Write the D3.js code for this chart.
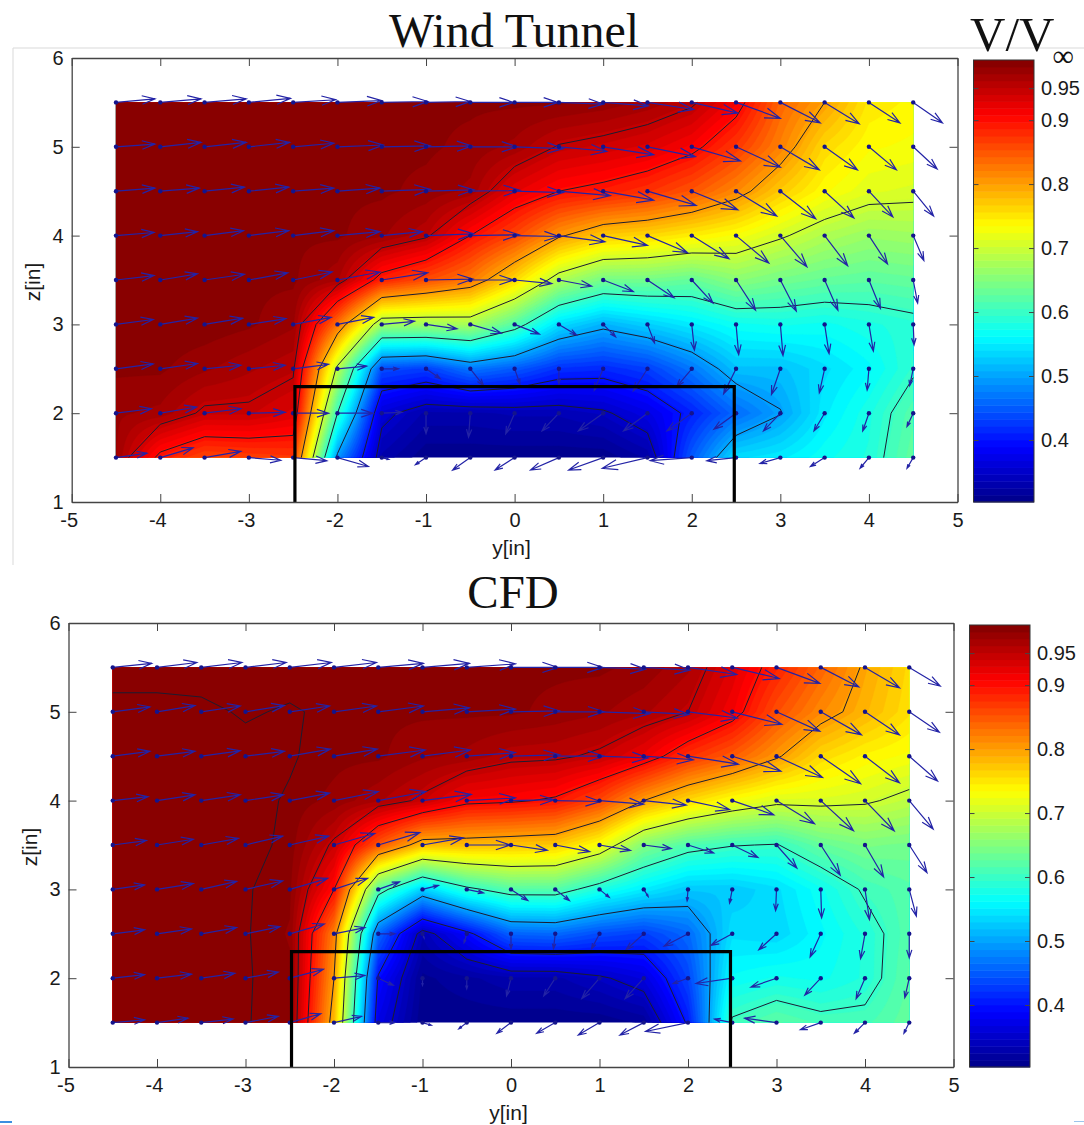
<!DOCTYPE html>
<html>
<head>
<meta charset="utf-8">
<style>
html, body { margin:0; padding:0; background:#fff; }
svg { display:block; }
text { font-family:"Liberation Sans", Arial, sans-serif; fill:#1a1a1a; }
.title { font-family:"Liberation Serif", "Times New Roman", serif; fill:#111; }
</style>
<script src="https://cdnjs.cloudflare.com/ajax/libs/d3/7.8.5/d3.min.js"></script>
</head>
<body>
<script>
// measurement grid, rows run from the top of the plot down
var yVals = [-4.5,-4,-3.5,-3,-2.5,-2,-1.5,-1,-0.5,0,0.5,1,1.5,2,2.5,3,3.5,4,4.5];
var zVals = [5.5,5,4.5,4,3.5,3,2.5,2,1.5];

var xTicks = [-5,-4,-3,-2,-1,0,1,2,3,4,5];
var zTicks = [1,2,3,4,5,6];
var barTicks = [0.4,0.5,0.6,0.7,0.8,0.9,0.95];
var speedRange = [0.303,0.994];

var wtLevels = [0.35,0.4,0.5,0.6,0.7,0.8,0.9,0.95];
var cfdLevels = [0.35,0.4,0.5,0.6,0.7,0.8,0.9,0.95,0.99];

var wtSpeed = [
	[.985,.985,.985,.985,.985,.985,.985,.985,.985,.985,.985,.98,.97,.955,.915,.84,.8,.75,.74],
	[.985,.985,.985,.985,.985,.985,.985,.985,.98,.97,.948,.94,.93,.91,.87,.82,.76,.735,.73],
	[.985,.985,.985,.985,.985,.985,.985,.98,.97,.925,.9,.89,.875,.85,.815,.77,.735,.715,.71],
	[.985,.985,.985,.985,.985,.985,.975,.955,.9,.86,.805,.77,.76,.745,.73,.705,.68,.665,.67],
	[.985,.985,.985,.985,.985,.965,.885,.855,.825,.76,.68,.64,.64,.63,.655,.64,.63,.625,.63],
	[.985,.99,.99,.985,.975,.83,.67,.67,.675,.62,.54,.51,.53,.55,.57,.575,.57,.58,.59],
	[.985,.985,.975,.965,.955,.69,.44,.43,.47,.45,.42,.415,.43,.47,.52,.52,.54,.56,.595],
	[.975,.97,.945,.945,.93,.6,.36,.33,.33,.335,.335,.345,.37,.41,.46,.498,.55,.58,.62],
	[.974,.89,.86,.865,.87,.49,.33,.305,.305,.305,.305,.305,.325,.45,.54,.55,.57,.585,.63]
];
var wtU = [
	[.44,.46,.47,.47,.48,.5,.52,.5,.49,.49,.5,.51,.52,.52,.5,.45,.39,.35,.33],
	[.44,.46,.47,.46,.46,.52,.55,.52,.53,.55,.54,.57,.54,.55,.5,.44,.37,.31,.27],
	[.44,.44,.45,.45,.46,.48,.55,.54,.56,.55,.58,.57,.55,.52,.46,.4,.33,.27,.23],
	[.43,.42,.44,.45,.46,.48,.46,.54,.55,.5,.52,.5,.45,.42,.37,.3,.26,.21,.12],
	[.43,.42,.45,.44,.44,.48,.52,.53,.49,.42,.37,.34,.3,.24,.22,.18,.15,.13,.05],
	[.42,.42,.43,.42,.43,.41,.37,.35,.35,.28,.2,.14,.08,.03,.03,.03,.05,.05,.01],
	[.42,.42,.41,.41,.4,.33,.19,.16,.15,.06,0,-.1,-.16,-.17,-.14,-.1,-.06,-.02,-.04],
	[.4,.41,.41,.41,.4,.4,.23,0,-.02,-.1,-.19,-.28,-.27,-.28,-.25,-.19,-.12,-.07,-.07],
	[.35,.37,.41,.36,.38,.35,.08,-.12,-.2,-.22,-.32,-.39,-.51,-.47,-.33,-.23,-.16,-.1,-.07]
];
var wtV = [
	[.04,.04,.04,.045,.03,.02,.01,.01,0,0,-.02,-.04,-.08,-.12,-.18,-.23,-.24,-.23,-.23],
	[.03,.05,.05,.05,.04,.02,.01,.01,0,-.02,-.05,-.09,-.11,-.16,-.23,-.26,-.26,-.26,-.25],
	[.035,.035,.045,.045,.035,.035,.02,.015,.01,-.015,-.05,-.1,-.16,-.21,-.28,-.31,-.3,-.29,-.28],
	[.035,.045,.055,.055,.055,.045,.045,.02,.01,-.01,-.07,-.11,-.19,-.26,-.31,-.35,-.34,-.32,-.28],
	[.05,.07,.065,.08,.09,.09,.08,.01,0,-.04,-.07,-.13,-.2,-.26,-.34,-.35,-.34,-.32,-.26],
	[.055,.07,.07,.065,.08,.08,.035,-.05,-.1,-.11,-.12,-.14,-.21,-.29,-.34,-.35,-.33,-.3,-.23],
	[.055,.06,.04,.04,.05,.03,0,-.11,-.19,-.17,-.17,-.24,-.25,-.2,-.28,-.29,-.27,-.24,-.19],
	[.05,.07,.05,.01,0,0,.01,-.23,-.27,-.23,-.2,-.2,-.2,-.2,-.18,-.2,-.2,-.2,-.15],
	[.05,.11,.07,-.03,-.035,-.1,-.02,-.08,-.14,-.14,-.14,-.14,-.12,-.035,-.035,-.065,-.1,-.12,-.12]
];

var cfdSpeed = [
	[.986,.986,.986,.986,.986,.986,.985,.985,.985,.985,.985,.985,.98,.965,.93,.885,.84,.795,.76],
	[.993,.993,.992,.989,.991,.988,.985,.985,.985,.985,.98,.975,.965,.95,.915,.855,.815,.785,.755],
	[.993,.993,.993,.993,.991,.986,.985,.975,.97,.957,.955,.945,.92,.875,.845,.805,.76,.74,.73],
	[.993,.993,.993,.993,.989,.98,.965,.945,.91,.905,.895,.86,.8,.76,.73,.71,.71,.705,.69],
	[.993,.993,.993,.993,.988,.945,.85,.78,.78,.775,.77,.73,.65,.615,.602,.598,.63,.645,.64],
	[.992,.992,.992,.991,.985,.9,.62,.53,.59,.62,.62,.58,.55,.525,.525,.54,.57,.605,.62],
	[.992,.992,.992,.991,.982,.82,.46,.335,.39,.455,.46,.44,.43,.46,.54,.535,.56,.585,.62],
	[.992,.992,.992,.991,.985,.8,.395,.31,.32,.33,.33,.345,.365,.435,.565,.575,.57,.585,.625],
	[.992,.992,.992,.991,.983,.78,.37,.305,.305,.305,.305,.305,.315,.405,.605,.625,.61,.61,.63]
];
var cfdU = [
	[.44,.45,.46,.46,.47,.48,.51,.53,.55,.53,.54,.52,.52,.55,.53,.49,.43,.39,.35],
	[.42,.43,.44,.44,.45,.48,.51,.53,.55,.55,.55,.57,.51,.56,.56,.49,.46,.39,.34],
	[.42,.43,.44,.44,.46,.49,.53,.54,.55,.55,.55,.55,.56,.57,.55,.52,.45,.39,.32],
	[.4,.43,.44,.43,.45,.5,.54,.55,.55,.49,.51,.5,.48,.47,.47,.43,.37,.33,.27],
	[.38,.41,.42,.42,.44,.46,.47,.46,.49,.41,.39,.35,.31,.29,.29,.23,.22,.21,.2],
	[.36,.41,.4,.42,.43,.38,.24,.18,.19,.19,.16,.11,.05,-.01,-.03,-.01,.01,.05,.08],
	[.36,.39,.4,.39,.39,.35,.19,.02,-.03,0,-.02,-.09,-.2,-.27,-.24,-.2,-.12,-.05,0],
	[.36,.39,.38,.37,.38,.35,.17,0,0,-.05,-.13,-.2,-.21,-.17,-.41,-.29,-.18,-.1,-.05],
	[.36,.35,.36,.37,.35,.31,.19,.1,-.09,-.16,-.21,-.24,-.27,-.48,-.2,-.36,-.23,-.12,-.06]
];
var cfdV = [
	[.045,.055,.055,.055,.055,.055,.045,.045,.04,0,0,-.02,-.03,-.08,-.125,-.18,-.22,-.23,-.21],
	[.055,.07,.065,.07,.065,.065,.065,.045,.03,.01,0,-.02,-.03,-.07,-.14,-.22,-.26,-.26,-.23],
	[.055,.055,.06,.055,.08,.08,.07,.07,.04,.015,0,-.02,-.04,-.09,-.17,-.24,-.31,-.3,-.28],
	[.045,.065,.065,.065,.085,.1,.1,.07,.03,.01,-.01,-.04,-.05,-.1,-.16,-.26,-.34,-.34,-.32],
	[.05,.065,.075,.1,.1,.13,.14,.08,0,-.06,-.075,-.06,-.04,-.09,-.14,-.26,-.34,-.36,-.31],
	[.05,.065,.09,.095,.125,.125,.085,.045,-.04,-.125,-.125,-.09,-.08,-.13,-.155,-.24,-.32,-.34,-.3],
	[.045,.055,.07,.08,.11,.07,0,-.05,-.1,-.17,-.17,-.17,-.18,-.14,-.13,-.18,-.26,-.28,-.27],
	[.04,.045,.055,.07,.1,.03,-.08,-.08,-.12,-.2,-.2,-.23,-.23,-.06,-.06,-.1,-.19,-.23,-.22],
	[.03,.05,.04,.07,.1,.07,0,-.03,-.07,-.12,-.12,-.14,-.14,-.1,.04,.05,-.08,-.12,-.12]
];

// jet colormap, position is the fraction of the colour bar
var jet = d3.scaleLinear()
	.domain([0,0.125,0.375,0.625,0.875,1])
	.range(["#000088","#0000ff","#00ffff","#ffff00","#ff0000","#800000"])
	.clamp(true);
var speedFrac = d3.scaleLinear().domain(speedRange).range([0,1]);
var speedColor = function(v) { return jet(speedFrac(v)); };

var svg = d3.select("body").append("svg")
	.attr("width", 1084)
	.attr("height", 1125);

// page furniture around the pasted figures
svg.append("path").attr("d", "M13,565V48H1084").attr("fill", "none").attr("stroke", "#d9d9d9");
svg.append("rect").attr("x", 0).attr("y", 1121).attr("width", 12).attr("height", 2).attr("fill", "#3b8ee0");
svg.append("rect").attr("x", 1074).attr("y", 1121).attr("width", 10).attr("height", 1).attr("fill", "#9cc4ec");

// speeds between the measured points, only used for the shading
var refine = function(grid, k)
{
	var nr = grid.length, nc = grid[0].length;
	var w = (nc-1)*k+1, h = (nr-1)*k+1, out = new Array(w*h);
	for(var j = 0; j < h; j++)
	{
		var r = Math.min(Math.floor(j/k), nr-2), tr = j/k-r;
		for(var i = 0; i < w; i++)
		{
			var c = Math.min(Math.floor(i/k), nc-2), tc = i/k-c;
			out[j*w+i] = (grid[r][c]*(1-tc)+grid[r][c+1]*tc)*(1-tr)
				+ (grid[r+1][c]*(1-tc)+grid[r+1][c+1]*tc)*tr;
		}
	}
	return {values:out, w:w, h:h};
}

// marching squares on the coarse grid, gives the straight line pieces matlab draws
var contourSegs = function(grid, level)
{
	var segs = [];
	var cross = function(a, b, pa, pb)
	{
		var t = (level-a)/(b-a);
		return [pa[0]+(pb[0]-pa[0])*t, pa[1]+(pb[1]-pa[1])*t];
	};
	for(var r = 0; r < grid.length-1; r++)
	{
		for(var c = 0; c < grid[0].length-1; c++)
		{
			var corners = [[c,r],[c+1,r],[c+1,r+1],[c,r+1]].map(function(p)
			{
				return {v:grid[p[1]][p[0]], p:[yVals[p[0]], zVals[p[1]]]};
			});
			var pts = [];
			for(var e = 0; e < 4; e++)
			{
				var a = corners[e], b = corners[(e+1)%4];
				if((a.v >= level) != (b.v >= level))
					pts.push(cross(a.v, b.v, a.p, b.p));
			}
			if(pts.length >= 2)
				segs.push([pts[0], pts[1]]);
			if(pts.length == 4)
				segs.push([pts[2], pts[3]]);
		}
	}
	return segs;
}

var drawPanel = function(o)
{
	var x = d3.scaleLinear().domain([-5,5]).range([o.left, o.right]);
	var z = d3.scaleLinear().domain([1,6]).range([o.bottom, o.top]);
	var g = svg.append("g");

	g.append("clipPath").attr("id", o.id)
		.append("rect")
		.attr("x", x(yVals[0]))
		.attr("y", z(zVals[0]))
		.attr("width", x(yVals[yVals.length-1])-x(yVals[0]))
		.attr("height", z(zVals[zVals.length-1])-z(zVals[0]));

	// shading, one filled contour per band
	var k = 8, fine = refine(o.speed, k);
	var thresholds = d3.range(speedRange[0], speedRange[1], 0.01);
	var contours = d3.contours().size([fine.w, fine.h]).thresholds(thresholds).smooth(true)(fine.values);
	var dy = yVals[1]-yVals[0], dz = zVals[1]-zVals[0];
	var path = d3.geoPath(d3.geoTransform({
		point: function(px, py)
		{
			this.stream.point(x(yVals[0]+(px-0.5)/k*dy), z(zVals[0]+(py-0.5)/k*dz));
		}
	}));
	g.append("g").attr("clip-path", "url(#"+o.id+")")
		.selectAll("path")
		.data(contours)
		.enter().append("path")
		.attr("d", path)
		.attr("fill", function(d) { return speedColor(d.value+0.005); })
		.attr("stroke", function(d) { return speedColor(d.value+0.005); })
		.attr("stroke-width", 0.4);

	// contour lines
	var line = d3.line().x(function(d) { return x(d[0]); }).y(function(d) { return z(d[1]); });
	var lines = g.append("g").attr("fill", "none").attr("stroke", "#1c1c30").attr("stroke-width", 1);
	o.levels.forEach(function(level)
	{
		lines.append("path")
			.attr("d", contourSegs(o.speed, level).map(function(s) { return line(s); }).join(""));
	});

	// quiver
	var pts = [];
	zVals.forEach(function(zv, r)
	{
		yVals.forEach(function(yv, c)
		{
			pts.push({y:yv, z:zv, u:o.u[r][c], v:o.v[r][c]});
		});
	});
	var arrow = function(d)
	{
		var x0 = x(d.y), y0 = z(d.z), x1 = x(d.y+d.u), y1 = z(d.z+d.v);
		var dx = x1-x0, dy2 = y1-y0;
		var a = 0.33, b = 0.33;
		return "M"+x0+","+y0+"L"+x1+","+y1
			+"M"+(x1-a*(dx+b*dy2))+","+(y1-a*(dy2-b*dx))
			+"L"+x1+","+y1
			+"L"+(x1-a*(dx-b*dy2))+","+(y1-a*(dy2+b*dx));
	};
	g.append("g").selectAll("path")
		.data(pts)
		.enter().append("path")
		.attr("d", arrow)
		.attr("fill", "none")
		.attr("stroke", "#2323a6")
		.attr("stroke-width", 1.2);
	g.append("g").selectAll("circle")
		.data(pts)
		.enter().append("circle")
		.attr("cx", function(d) { return x(d.y); })
		.attr("cy", function(d) { return z(d.z); })
		.attr("r", 2.2)
		.attr("fill", "#14148c");

	// the model outline
	g.append("path")
		.attr("d", line([[-2.48,1],[-2.48,2.3],[2.48,2.3],[2.48,1]]))
		.attr("fill", "none")
		.attr("stroke", "#000")
		.attr("stroke-width", 3.2);

	// axes, matlab style ticks inside on all four sides
	var axisStyle = function(a)
	{
		a.selectAll(".domain").attr("stroke", "#444").attr("stroke-width", 1.3);
		a.selectAll("line").attr("stroke", "#444");
		a.selectAll("text").attr("font-size", 20).attr("font-family", null);
	};
	var none = function() { return ""; };
	g.append("g").attr("transform", "translate(0,"+o.bottom+")")
		.call(d3.axisBottom(x).tickValues(xTicks).tickSize(-8).tickSizeOuter(0).tickPadding(11).tickFormat(String))
		.call(axisStyle)
		.selectAll("text").attr("dx", function(d) { return d < 0 ? -3 : 0; });
	g.append("g").attr("transform", "translate(0,"+o.top+")")
		.call(d3.axisTop(x).tickValues(xTicks).tickSize(-8).tickSizeOuter(0).tickFormat(none))
		.call(axisStyle);
	g.append("g").attr("transform", "translate("+o.left+",0)")
		.call(d3.axisLeft(z).tickValues(zTicks).tickSize(-8).tickSizeOuter(0).tickPadding(8).tickFormat(String))
		.call(axisStyle);
	g.append("g").attr("transform", "translate("+o.right+",0)")
		.call(d3.axisRight(z).tickValues(zTicks).tickSize(-8).tickSizeOuter(0).tickFormat(none))
		.call(axisStyle);

	g.append("text")
		.attr("x", o.xLabel[0]).attr("y", o.xLabel[1])
		.attr("text-anchor", "middle").attr("font-size", 21)
		.text("y[in]");
	g.append("text")
		.attr("transform", "translate("+o.zLabel[0]+","+o.zLabel[1]+") rotate(-90)")
		.attr("text-anchor", "middle").attr("font-size", 21)
		.text("z[in]");

	// colour bar
	var bar = d3.scaleLinear().domain(speedRange).range([o.bottom, o.barTop]);
	var nBand = 64, steps = d3.range(nBand);
	var vAt = function(i) { return speedRange[0]+(speedRange[1]-speedRange[0])*i/nBand; };
	g.append("g").selectAll("rect")
		.data(steps)
		.enter().append("rect")
		.attr("x", o.barLeft)
		.attr("y", function(i) { return bar(vAt(i+1)); })
		.attr("width", o.barRight-o.barLeft)
		.attr("height", function(i) { return bar(vAt(i))-bar(vAt(i+1))+0.5; })
		.attr("fill", function(i) { return jet((i+0.5)/nBand); });
	g.append("rect")
		.attr("x", o.barLeft).attr("y", o.barTop)
		.attr("width", o.barRight-o.barLeft).attr("height", o.bottom-o.barTop)
		.attr("fill", "none").attr("stroke", "#333");
	g.append("g").attr("transform", "translate("+o.barRight+",0)")
		.call(d3.axisRight(bar).tickValues(barTicks).tickSize(-5).tickSizeOuter(0).tickPadding(7).tickFormat(String))
		.call(axisStyle)
		.select(".domain").remove();
	g.append("g").attr("transform", "translate("+o.barLeft+",0)")
		.call(d3.axisLeft(bar).tickValues(barTicks).tickSize(-5).tickSizeOuter(0).tickFormat(none))
		.call(axisStyle)
		.select(".domain").remove();

	g.append("text").attr("class", "title")
		.attr("x", o.title[0]).attr("y", o.title[1])
		.attr("text-anchor", "middle").attr("font-size", o.titleSize)
		.text(o.name);
}

drawPanel({
	id:"clipWt", name:"Wind Tunnel", titleSize:48,
	speed:wtSpeed, u:wtU, v:wtV, levels:wtLevels,
	left:71.7, right:957.5, top:58, bottom:502,
	barLeft:973.5, barRight:1034, barTop:60,
	xLabel:[511.5,555], zLabel:[40,282], title:[514,47]
});
drawPanel({
	id:"clipCfd", name:"CFD", titleSize:47,
	speed:cfdSpeed, u:cfdU, v:cfdV, levels:cfdLevels,
	left:68.5, right:953.5, top:623, bottom:1067,
	barLeft:969.5, barRight:1030, barTop:625,
	xLabel:[508.5,1120], zLabel:[37,847], title:[513,608]
});

// V/V infinity heading over the first colour bar
var heading = svg.append("text").attr("class", "title")
	.attr("x", 970).attr("y", 51)
	.attr("font-size", 49)
	.text("V/V");
heading.append("tspan")
	.attr("dx", -2).attr("dy", 15)
	.attr("font-size", 30)
	.text("\u221e");
</script>
</body>
</html>
